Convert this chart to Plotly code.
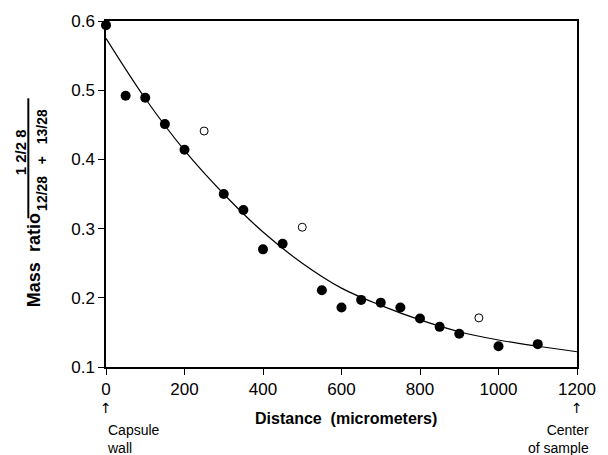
import plotly.graph_objects as go

# Filled points (measured)
x_filled = [0, 50, 100, 150, 200, 300, 350, 400, 450, 550, 600, 650, 700, 750, 800, 850, 900, 1000, 1100]
y_filled = [0.594, 0.492, 0.489, 0.451, 0.414, 0.350, 0.327, 0.270, 0.278, 0.211, 0.186, 0.197, 0.193,
            0.186, 0.170, 0.158, 0.148, 0.130, 0.133]

# Open points
x_open = [250, 500, 950]
y_open = [0.441, 0.302, 0.171]

# Fitted curve
x_curve = [0, 100, 200, 300, 400, 500, 600, 700, 800, 900, 1000, 1100, 1200]
y_curve = [0.575, 0.488, 0.413, 0.350, 0.295, 0.250, 0.214, 0.189, 0.168, 0.151, 0.139, 0.130, 0.122]

x_ticks = [0, 200, 400, 600, 800, 1000, 1200]
y_ticks = [0.1, 0.2, 0.3, 0.4, 0.5, 0.6]

FONT = "Liberation Sans, Arial, Helvetica, sans-serif"
ARROW_FONT = "DejaVu Sans, Liberation Sans, sans-serif"

fig = go.Figure()
fig.add_trace(go.Scatter(x=x_curve, y=y_curve, mode="lines",
                         line=dict(color="black", width=1.2, shape="spline"),
                         showlegend=False, hoverinfo="skip"))
fig.add_trace(go.Scatter(x=x_filled, y=y_filled, mode="markers",
                         marker=dict(color="black", size=10, line=dict(width=0)),
                         showlegend=False, cliponaxis=False))
fig.add_trace(go.Scatter(x=x_open, y=y_open, mode="markers",
                         marker=dict(color="white", size=8, line=dict(color="black", width=1)),
                         showlegend=False, cliponaxis=False))

W, H = 608, 455
L, R, T, B = 106, 23, 18, 88
pw, ph = W - L - R, H - T - B

def px(xp):
    return (xp - L) / pw

def py(yp):
    return (H - B - yp) / ph

annos = [
    dict(text="↑", x=0, y=py(408), font=dict(size=14, family=ARROW_FONT)),
    dict(text="↑", x=1, y=py(408), font=dict(size=14, family=ARROW_FONT)),
    dict(text="Capsule<br>wall", x=px(105), y=py(440), xanchor="left", align="left", font=dict(size=14)),
    dict(text="Center<br>of sample", x=px(599), y=py(440), xanchor="right", align="right", font=dict(size=14)),
    dict(text="<b>Distance  (micrometers)</b>", x=px(350), y=py(419), font=dict(size=16)),
    dict(text="<b>Mass  ratio</b>", x=px(33), y=py(259), textangle=-90, font=dict(size=18)),
    dict(text="<b>1 2/2 8</b>", x=px(19), y=py(150), textangle=-90, font=dict(size=15)),
    dict(text="<b>12/28   +   13/28</b>", x=px(41), y=py(158), textangle=-90, font=dict(size=14)),
]
annotations = []
for a in annos:
    base = dict(xref="paper", yref="paper", showarrow=False, xanchor="center", yanchor="middle")
    base.update(a)
    f = dict(family=FONT, color="black")
    f.update(base.get("font", {}))
    base["font"] = f
    annotations.append(base)

fig.update_layout(
    width=W, height=H,
    margin=dict(l=L, r=R, t=T, b=B, pad=0),
    paper_bgcolor="white", plot_bgcolor="white",
    font=dict(family=FONT, color="black", size=17),
    annotations=annotations,
    shapes=[dict(type="line", xref="paper", yref="paper",
                 x0=px(27), x1=px(27), y0=py(96), y1=py(217),
                 line=dict(color="black", width=2))],
    xaxis=dict(range=[0, 1200], tickvals=x_ticks, ticktext=[str(v) for v in x_ticks],
               showgrid=False, zeroline=False, showline=True, linecolor="black", linewidth=1.5,
               mirror=True, ticks="outside", ticklen=6, tickwidth=1, tickcolor="black",
               tickfont=dict(size=17)),
    yaxis=dict(range=[0.1, 0.6], tickvals=y_ticks, ticktext=[f"{v:.1f}" for v in y_ticks],
               showgrid=False, zeroline=False, showline=True, linecolor="black", linewidth=1.5,
               mirror=True, ticks="outside", ticklen=6, tickwidth=1, tickcolor="black",
               tickfont=dict(size=17)),
)

fig.write_html("out.html", config={"displayModeBar": False},
               post_script="document.body.style.margin='0px';document.body.style.padding='0px';")
